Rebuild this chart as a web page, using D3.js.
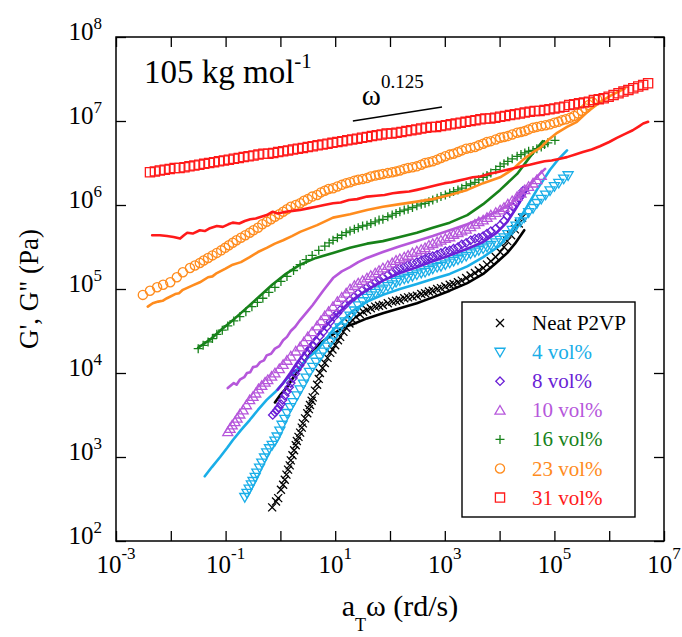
<!DOCTYPE html>
<html>
<head>
<meta charset="utf-8">
<script src="https://cdn.jsdelivr.net/npm/d3@7"></script>
<style>
  body { margin: 0; background: #fff; }
</style>
</head>
<body>
<svg id="chart" width="682" height="637"></svg>
<script>
// values, stored as [log10(aT*w / rd s^-1), log10(G / Pa)]
const samples = ['Neat P2VP', '4 vol%', '8 vol%', '10 vol%', '16 vol%', '23 vol%', '31 vol%'];
const colors = ['#000000', '#1aaee8', '#6a1fd6', '#b657db', '#17821a', '#ff8c1e', '#ff1a1a'];
const shapes = ['cross', 'triDown', 'diamond', 'triUp', 'plus', 'circle', 'square'];

const xTickExp = [-3, -2, -1, 0, 1, 2, 3, 4, 5, 6, 7];
const xLabelExp = [-3, -1, 1, 3, 5, 7];
const yTickExp = [2, 3, 4, 5, 6, 7, 8];

// G' (symbols)
const neatGp = [[-0.15,2.40],[-0.08,2.47],[-0.04,2.51],[0.01,2.61],[0.05,2.67],[0.08,2.73],[0.11,2.79],[0.14,2.85],[0.17,2.90],[0.19,2.96],[0.22,3.02],[0.25,3.08],[0.28,3.14],[0.30,3.19],[0.33,3.24],[0.36,3.29],[0.39,3.35],[0.41,3.40],[0.45,3.46],[0.49,3.52],[0.52,3.57],[0.54,3.62],[0.57,3.67],[0.59,3.71],[0.63,3.79],[0.67,3.86],[0.70,3.93],[0.72,4.00],[0.77,4.06],[0.81,4.12],[0.86,4.18],[0.91,4.24],[0.95,4.28],[1.00,4.33],[1.05,4.39],[1.09,4.43],[1.15,4.49],[1.20,4.54],[1.26,4.59],[1.32,4.63],[1.38,4.67],[1.45,4.70],[1.51,4.73],[1.58,4.75],[1.65,4.77],[1.73,4.79],[1.80,4.80],[1.87,4.81],[1.96,4.83],[2.04,4.85],[2.11,4.86],[2.18,4.87],[2.26,4.89],[2.33,4.90],[2.41,4.91],[2.49,4.92],[2.57,4.94],[2.64,4.95],[2.71,4.97],[2.78,4.98],[2.86,5.00],[2.93,5.01],[3.01,5.03],[3.09,5.05],[3.16,5.06],[3.24,5.08],[3.31,5.10],[3.39,5.13],[3.47,5.16],[3.55,5.19],[3.62,5.22],[3.70,5.25],[3.77,5.29],[3.84,5.33],[3.93,5.38],[4.01,5.44],[4.08,5.50],[4.14,5.57],[4.21,5.64],[4.28,5.71],[4.35,5.78],[4.41,5.85]];
const v4Gp = [[-0.65,2.52],[-0.61,2.57],[-0.57,2.62],[-0.53,2.67],[-0.50,2.71],[-0.46,2.76],[-0.43,2.81],[-0.38,2.87],[-0.34,2.93],[-0.29,2.99],[-0.25,3.05],[-0.20,3.10],[-0.15,3.14],[-0.10,3.19],[-0.06,3.24],[-0.01,3.31],[0.03,3.38],[0.08,3.45],[0.12,3.52],[0.18,3.59],[0.23,3.65],[0.30,3.73],[0.36,3.80],[0.42,3.87],[0.47,3.94],[0.53,4.01],[0.59,4.07],[0.65,4.13],[0.72,4.19],[0.78,4.25],[0.85,4.31],[0.92,4.37],[0.98,4.43],[1.04,4.49],[1.09,4.54],[1.18,4.61],[1.27,4.68],[1.35,4.74],[1.42,4.80],[1.50,4.85],[1.58,4.89],[1.65,4.92],[1.73,4.95],[1.80,4.98],[1.87,5.00],[1.96,5.03],[2.04,5.05],[2.11,5.08],[2.18,5.10],[2.26,5.12],[2.33,5.13],[2.41,5.15],[2.49,5.17],[2.57,5.19],[2.64,5.20],[2.71,5.22],[2.78,5.24],[2.86,5.26],[2.93,5.27],[3.01,5.29],[3.09,5.31],[3.16,5.33],[3.24,5.35],[3.31,5.37],[3.39,5.39],[3.47,5.42],[3.55,5.44],[3.62,5.46],[3.70,5.48],[3.77,5.50],[3.84,5.52],[3.93,5.55],[4.01,5.58],[4.08,5.61],[4.15,5.65],[4.23,5.70],[4.30,5.75],[4.38,5.80],[4.45,5.85],[4.53,5.91],[4.61,5.96],[4.68,6.02],[4.76,6.07],[4.84,6.12],[4.92,6.17],[5.00,6.22],[5.08,6.26],[5.17,6.31],[5.25,6.35]];
const v8Gp = [[-0.14,3.50],[-0.10,3.53],[-0.06,3.56],[-0.03,3.59],[0.01,3.63],[0.04,3.68],[0.08,3.73],[0.12,3.78],[0.16,3.83],[0.19,3.88],[0.23,3.94],[0.27,3.99],[0.30,4.04],[0.35,4.09],[0.39,4.13],[0.44,4.19],[0.49,4.24],[0.54,4.29],[0.59,4.33],[0.65,4.38],[0.72,4.44],[0.78,4.49],[0.85,4.55],[0.91,4.61],[0.98,4.67],[1.04,4.71],[1.09,4.75],[1.18,4.81],[1.27,4.87],[1.35,4.91],[1.42,4.95],[1.50,4.99],[1.58,5.02],[1.65,5.05],[1.73,5.08],[1.80,5.11],[1.87,5.14],[1.96,5.17],[2.04,5.20],[2.11,5.23],[2.18,5.25],[2.26,5.27],[2.33,5.29],[2.41,5.31],[2.49,5.32],[2.57,5.34],[2.64,5.36],[2.71,5.38],[2.78,5.39],[2.86,5.41],[2.93,5.43],[3.01,5.45],[3.09,5.46],[3.16,5.48],[3.24,5.50],[3.31,5.53],[3.39,5.55],[3.47,5.58],[3.55,5.60],[3.62,5.61],[3.70,5.63],[3.77,5.66],[3.84,5.69],[3.93,5.72],[4.01,5.76],[4.08,5.81],[4.14,5.87],[4.19,5.92],[4.24,5.98],[4.30,6.03],[4.35,6.08],[4.39,6.12],[4.43,6.17]];
const v10Gp = [[-0.96,3.30],[-0.92,3.34],[-0.88,3.38],[-0.83,3.42],[-0.79,3.46],[-0.74,3.51],[-0.68,3.56],[-0.62,3.62],[-0.56,3.68],[-0.50,3.72],[-0.45,3.76],[-0.40,3.81],[-0.34,3.85],[-0.28,3.89],[-0.23,3.92],[-0.16,3.96],[-0.10,4.00],[-0.02,4.05],[0.05,4.10],[0.12,4.15],[0.19,4.20],[0.28,4.26],[0.36,4.31],[0.43,4.37],[0.50,4.43],[0.58,4.49],[0.67,4.56],[0.74,4.62],[0.81,4.68],[0.88,4.73],[0.96,4.79],[1.04,4.85],[1.12,4.90],[1.20,4.95],[1.27,5.00],[1.35,5.04],[1.42,5.07],[1.50,5.10],[1.58,5.13],[1.65,5.16],[1.73,5.19],[1.80,5.22],[1.87,5.25],[1.96,5.28],[2.04,5.31],[2.11,5.34],[2.18,5.36],[2.26,5.38],[2.33,5.40],[2.41,5.43],[2.49,5.45],[2.57,5.47],[2.64,5.49],[2.71,5.52],[2.78,5.54],[2.86,5.56],[2.93,5.58],[3.01,5.60],[3.09,5.62],[3.16,5.65],[3.24,5.67],[3.31,5.69],[3.39,5.71],[3.47,5.74],[3.55,5.77],[3.62,5.80],[3.70,5.82],[3.77,5.85],[3.84,5.88],[3.93,5.91],[4.01,5.94],[4.08,5.97],[4.15,6.01],[4.23,6.05],[4.32,6.10],[4.39,6.14],[4.46,6.18],[4.53,6.22],[4.61,6.26],[4.68,6.30],[4.76,6.35]];
const v16Gp = [[-1.50,4.29],[-1.41,4.33],[-1.32,4.37],[-1.24,4.41],[-1.16,4.46],[-1.06,4.51],[-0.96,4.56],[-0.85,4.62],[-0.74,4.67],[-0.63,4.73],[-0.52,4.79],[-0.42,4.84],[-0.32,4.89],[-0.21,4.96],[-0.10,5.02],[0.01,5.09],[0.12,5.15],[0.24,5.22],[0.36,5.29],[0.47,5.35],[0.58,5.40],[0.70,5.46],[0.81,5.51],[0.89,5.55],[0.96,5.58],[1.04,5.61],[1.12,5.64],[1.20,5.67],[1.27,5.69],[1.35,5.71],[1.42,5.73],[1.50,5.75],[1.58,5.76],[1.65,5.78],[1.73,5.80],[1.80,5.82],[1.87,5.83],[1.96,5.86],[2.04,5.88],[2.11,5.90],[2.18,5.92],[2.26,5.94],[2.33,5.95],[2.41,5.97],[2.49,5.99],[2.57,6.01],[2.64,6.02],[2.71,6.04],[2.78,6.06],[2.86,6.08],[2.93,6.10],[3.01,6.12],[3.09,6.14],[3.16,6.16],[3.24,6.18],[3.31,6.20],[3.39,6.23],[3.47,6.25],[3.55,6.27],[3.62,6.30],[3.70,6.33],[3.77,6.35],[3.84,6.38],[3.93,6.42],[4.01,6.46],[4.08,6.49],[4.15,6.52],[4.23,6.55],[4.32,6.58],[4.39,6.60],[4.46,6.62],[4.53,6.64],[4.61,6.65],[4.68,6.67],[4.76,6.69],[4.82,6.72],[4.88,6.74],[5.01,6.77]];
const v23Gp = [[-2.51,4.93],[-2.38,4.98],[-2.25,5.02],[-2.14,5.05],[-2.01,5.08],[-1.89,5.14],[-1.78,5.20],[-1.65,5.25],[-1.56,5.28],[-1.47,5.31],[-1.40,5.34],[-1.32,5.37],[-1.24,5.40],[-1.16,5.43],[-1.08,5.46],[-1.01,5.49],[-0.94,5.52],[-0.87,5.55],[-0.80,5.58],[-0.72,5.61],[-0.64,5.64],[-0.56,5.67],[-0.49,5.70],[-0.41,5.73],[-0.33,5.77],[-0.25,5.80],[-0.17,5.83],[-0.10,5.86],[-0.02,5.89],[0.05,5.92],[0.12,5.95],[0.19,5.98],[0.28,6.00],[0.36,6.02],[0.43,6.05],[0.50,6.07],[0.58,6.10],[0.67,6.12],[0.74,6.15],[0.81,6.17],[0.88,6.19],[0.96,6.20],[1.04,6.22],[1.12,6.24],[1.20,6.26],[1.27,6.27],[1.35,6.29],[1.42,6.30],[1.50,6.31],[1.58,6.32],[1.65,6.34],[1.73,6.35],[1.80,6.36],[1.87,6.37],[1.96,6.38],[2.04,6.39],[2.11,6.40],[2.18,6.41],[2.26,6.43],[2.33,6.44],[2.41,6.45],[2.49,6.46],[2.57,6.48],[2.64,6.50],[2.71,6.51],[2.78,6.52],[2.86,6.54],[2.93,6.56],[3.01,6.58],[3.09,6.60],[3.16,6.61],[3.24,6.63],[3.31,6.65],[3.39,6.67],[3.47,6.68],[3.55,6.69],[3.62,6.71],[3.70,6.73],[3.77,6.75],[3.84,6.76],[3.93,6.78],[4.01,6.80],[4.08,6.81],[4.15,6.82],[4.23,6.84],[4.32,6.86],[4.39,6.87],[4.46,6.88],[4.53,6.90],[4.61,6.92],[4.68,6.93],[4.76,6.94],[4.84,6.95],[4.92,6.96],[5.00,6.98],[5.07,6.99],[5.14,7.01],[5.21,7.02],[5.29,7.04],[5.36,7.06],[5.43,7.09],[5.50,7.12],[5.57,7.15],[5.63,7.19],[5.70,7.22],[5.78,7.26]];
const v31Gp = [[-2.38,6.39],[-2.29,6.40],[-2.20,6.41],[-2.11,6.42],[-2.02,6.43],[-1.93,6.44],[-1.84,6.44],[-1.75,6.45],[-1.66,6.46],[-1.57,6.47],[-1.48,6.48],[-1.39,6.49],[-1.30,6.50],[-1.21,6.51],[-1.12,6.52],[-1.03,6.53],[-0.94,6.54],[-0.85,6.55],[-0.76,6.56],[-0.67,6.57],[-0.58,6.58],[-0.49,6.59],[-0.40,6.60],[-0.31,6.61],[-0.22,6.61],[-0.13,6.62],[-0.04,6.63],[0.05,6.64],[0.14,6.65],[0.23,6.66],[0.32,6.67],[0.41,6.68],[0.50,6.69],[0.59,6.70],[0.68,6.71],[0.77,6.72],[0.86,6.73],[0.95,6.74],[1.04,6.75],[1.13,6.76],[1.22,6.77],[1.31,6.78],[1.40,6.79],[1.49,6.80],[1.58,6.81],[1.67,6.82],[1.76,6.83],[1.85,6.84],[1.94,6.85],[2.03,6.85],[2.12,6.86],[2.21,6.87],[2.30,6.88],[2.39,6.89],[2.48,6.90],[2.57,6.91],[2.66,6.92],[2.75,6.93],[2.84,6.93],[2.93,6.94],[3.02,6.95],[3.11,6.96],[3.20,6.97],[3.29,6.98],[3.38,6.99],[3.47,7.00],[3.56,7.01],[3.65,7.02],[3.74,7.03],[3.83,7.03],[3.92,7.04],[4.01,7.05],[4.10,7.06],[4.19,7.07],[4.28,7.08],[4.37,7.09],[4.46,7.10],[4.55,7.11],[4.64,7.12],[4.73,7.12],[4.82,7.13],[4.91,7.14],[5.00,7.15],[5.09,7.16],[5.18,7.17],[5.27,7.19],[5.36,7.20],[5.45,7.21],[5.54,7.22],[5.63,7.23],[5.72,7.25],[5.81,7.26],[5.90,7.27],[5.99,7.29],[6.08,7.31],[6.17,7.33],[6.26,7.35],[6.35,7.37],[6.44,7.39],[6.53,7.41],[6.62,7.43],[6.71,7.45]];

// G'' (lines)
const neatGpp = [[-0.10,3.65],[0.01,3.75],[0.12,3.83],[0.23,3.94],[0.36,4.06],[0.49,4.18],[0.59,4.27],[0.76,4.37],[0.96,4.46],[1.14,4.54],[1.32,4.58],[1.58,4.65],[1.87,4.71],[2.18,4.77],[2.49,4.83],[2.78,4.90],[3.09,4.98],[3.41,5.07],[3.70,5.18],[3.92,5.30],[4.14,5.43],[4.28,5.54],[4.45,5.70]];
const v4Gpp = [[-1.38,2.77],[-1.25,2.88],[-1.10,3.00],[-0.97,3.11],[-0.87,3.20],[-0.72,3.32],[-0.56,3.44],[-0.41,3.56],[-0.25,3.68],[-0.10,3.77],[0.05,3.88],[0.19,3.98],[0.36,4.07],[0.50,4.18],[0.67,4.27],[0.81,4.39],[0.96,4.51],[1.14,4.63],[1.32,4.74],[1.58,4.85],[1.87,4.93],[2.18,5.00],[2.49,5.06],[2.78,5.12],[3.09,5.18],[3.41,5.27],[3.70,5.38],[4.01,5.52],[4.32,5.79],[4.50,5.98],[4.68,6.18],[4.92,6.42],[5.08,6.55],[5.23,6.65]];
const v8Gpp = [[-0.05,3.80],[0.05,3.88],[0.18,4.00],[0.30,4.12],[0.45,4.25],[0.59,4.38],[0.76,4.51],[0.96,4.65],[1.27,4.85],[1.58,4.99],[1.87,5.10],[2.18,5.19],[2.49,5.26],[2.78,5.33],[3.09,5.40],[3.41,5.48],[3.70,5.56],[3.95,5.67],[4.14,5.80],[4.28,5.94],[4.41,6.08],[4.52,6.20]];
const v10Gpp = [[-0.96,3.82],[-0.85,3.88],[-0.80,3.86],[-0.74,3.92],[-0.66,3.95],[-0.61,4.00],[-0.55,4.01],[-0.50,4.07],[-0.43,4.08],[-0.37,4.13],[-0.30,4.15],[-0.25,4.21],[-0.17,4.23],[-0.10,4.29],[-0.02,4.32],[0.05,4.39],[0.12,4.43],[0.19,4.50],[0.27,4.55],[0.36,4.63],[0.49,4.73],[0.59,4.81],[0.78,4.98],[0.96,5.13],[1.12,5.21],[1.27,5.26],[1.42,5.32],[1.58,5.37],[1.87,5.44],[2.18,5.51],[2.49,5.57],[2.78,5.63],[3.09,5.70],[3.41,5.77],[3.70,5.85],[4.01,5.94],[4.19,6.01],[4.37,6.11],[4.55,6.24],[4.70,6.35],[4.83,6.43]];
const v16Gpp = [[-1.50,4.30],[-1.28,4.40],[-1.07,4.52],[-0.83,4.65],[-0.59,4.79],[-0.37,4.92],[-0.15,5.05],[0.10,5.18],[0.36,5.29],[0.65,5.37],[0.96,5.43],[1.27,5.49],[1.58,5.54],[1.87,5.57],[2.18,5.62],[2.49,5.67],[2.78,5.73],[3.09,5.79],[3.41,5.88],[3.70,6.01],[4.01,6.18],[4.32,6.37],[4.55,6.57],[4.79,6.76]];
const v23Gpp = [[-2.42,4.79],[-2.33,4.83],[-2.23,4.85],[-2.15,4.86],[-2.07,4.89],[-1.92,4.94],[-1.85,4.95],[-1.78,4.99],[-1.61,5.04],[-1.47,5.08],[-1.32,5.14],[-1.24,5.15],[-1.16,5.19],[-1.01,5.24],[-0.87,5.29],[-0.72,5.32],[-0.56,5.38],[-0.41,5.44],[-0.25,5.49],[-0.10,5.54],[0.05,5.58],[0.21,5.63],[0.36,5.68],[0.67,5.76],[0.96,5.85],[1.27,5.89],[1.58,5.94],[1.87,5.98],[2.18,6.01],[2.49,6.04],[2.78,6.07],[3.09,6.12],[3.41,6.18],[3.70,6.26],[4.01,6.33],[4.23,6.42],[4.43,6.54],[4.59,6.62],[4.74,6.68],[4.88,6.77],[5.05,6.86],[5.23,6.93],[5.41,6.99],[5.59,7.10],[5.78,7.20],[5.92,7.26],[6.05,7.31],[6.20,7.36],[6.29,7.39]];
const v31Gpp = [[-2.34,5.64],[-2.20,5.64],[-2.07,5.63],[-1.95,5.62],[-1.83,5.60],[-1.76,5.64],[-1.70,5.67],[-1.60,5.66],[-1.47,5.70],[-1.38,5.69],[-1.30,5.72],[-1.16,5.75],[-1.05,5.74],[-0.95,5.77],[-0.87,5.79],[-0.75,5.78],[-0.65,5.81],[-0.55,5.83],[-0.45,5.84],[-0.35,5.86],[-0.25,5.88],[-0.14,5.92],[-0.05,5.90],[0.10,5.92],[0.22,5.93],[0.36,5.94],[0.50,5.96],[0.65,5.98],[0.80,6.00],[0.96,6.02],[1.10,6.03],[1.25,6.06],[1.40,6.07],[1.58,6.10],[1.75,6.11],[1.90,6.12],[2.05,6.14],[2.18,6.15],[2.35,6.16],[2.49,6.18],[2.62,6.20],[2.75,6.22],[2.88,6.24],[3.00,6.26],[3.12,6.27],[3.25,6.29],[3.38,6.31],[3.51,6.33],[3.65,6.34],[3.80,6.37],[3.95,6.39],[4.14,6.42],[4.28,6.44],[4.40,6.46],[4.55,6.48],[4.68,6.50],[4.82,6.52],[4.95,6.53],[5.10,6.55],[5.23,6.57],[5.38,6.60],[5.52,6.63],[5.68,6.66],[5.83,6.70],[6.00,6.75],[6.14,6.80],[6.30,6.85],[6.43,6.89],[6.55,6.94],[6.62,6.97],[6.71,6.99]];

// omega^0.125 guide line, [aT*w, G]
const slopeLine = [[21, 1.0e7], [890, 1.47e7]];

const gpSets = [neatGp, v4Gp, v8Gp, v10Gp, v16Gp, v23Gp, v31Gp];
const gppSets = [neatGpp, v4Gpp, v8Gpp, v10Gpp, v16Gpp, v23Gpp, v31Gpp];

const toValues = arr => arr.map(([lw, lg]) => [Math.pow(10, lw), Math.pow(10, lg)]);
const series = samples.map((name, i) => ({
  name, color: colors[i], shape: shapes[i],
  gp: toValues(gpSets[i]), gpp: toValues(gppSets[i])
}));

const svg = d3.select('#chart');
const x = d3.scaleLog().domain([1e-3, 1e7]).range([116, 664]);
const y = d3.scaleLog().domain([1e2, 1e8]).range([541, 37]);
const [x0, x1] = x.range();
const [y0, y1] = y.range();

const symbolPath = (shape, r) => {
  switch (shape) {
    case 'cross': return `M${-r},${-r}L${r},${r}M${-r},${r}L${r},${-r}`;
    case 'plus': return `M${-r},0H${r}M0,${-r}V${r}`;
    case 'square': return `M${-r},${-r}H${r}V${r}H${-r}Z`;
    case 'diamond': return `M0,${-r}L${r},0L0,${r}L${-r},0Z`;
    case 'triUp': return `M0,${-r}L${r * 1.05},${r * 0.8}L${-r * 1.05},${r * 0.8}Z`;
    case 'triDown': return `M0,${r}L${r * 1.05},${-r * 0.8}L${-r * 1.05},${-r * 0.8}Z`;
    case 'circle': return d3.arc()({innerRadius: 0, outerRadius: r, startAngle: 0, endAngle: 2 * Math.PI});
  }
};
const symbolSize = {cross: 4, plus: 4.5, square: 4.6, diamond: 4.2, triUp: 4.8, triDown: 4.8, circle: 4.6};

const addText = (sel, xPos, yPos, size) => sel.append('text')
  .attr('x', xPos).attr('y', yPos).attr('font-size', size)
  .style('font-family', '"Liberation Serif"');

// ticks on all four sides, pointing inward
const xTicks = xTickExp.map(e => Math.pow(10, e));
const yTicks = yTickExp.map(e => Math.pow(10, e));
const addAxis = (axis, tx, ty) => {
  const g = svg.append('g').attr('transform', `translate(${tx},${ty})`)
    .call(axis.tickSizeInner(-10).tickSizeOuter(0).tickFormat(() => ''));
  g.select('.domain').remove();
  g.selectAll('.tick text').remove();
  g.selectAll('.tick line').attr('stroke', '#000').attr('stroke-width', 1.3);
};
addAxis(d3.axisBottom(x).tickValues(xTicks), 0, y0);
addAxis(d3.axisTop(x).tickValues(xTicks), 0, y1);
addAxis(d3.axisLeft(y).tickValues(yTicks), x0, 0);
addAxis(d3.axisRight(y).tickValues(yTicks), x1, 0);

svg.append('rect')
  .attr('x', x0).attr('y', y1).attr('width', x1 - x0).attr('height', y0 - y1)
  .attr('fill', 'none').attr('stroke', '#000').attr('stroke-width', 1.5);

// tick labels
xLabelExp.forEach(e => {
  const t = addText(svg, x(Math.pow(10, e)), 573, 25).attr('text-anchor', 'middle');
  t.append('tspan').text('10');
  t.append('tspan').attr('dy', -14).attr('font-size', 17).text(String(e));
});
yTickExp.forEach(e => {
  const t = addText(svg, x0 - 14, y(Math.pow(10, e)) + 3, 25).attr('text-anchor', 'end');
  t.append('tspan').text('10');
  t.append('tspan').attr('dy', -11).attr('font-size', 17).text(String(e));
});

// axis titles
addText(svg, 0, 0, 27)
  .attr('transform', `translate(38,${(y0 + y1) / 2}) rotate(-90)`)
  .attr('text-anchor', 'middle')
  .text('G\', G" (Pa)');
const xt = addText(svg, (x0 + x1) / 2 + 10, 616, 30).attr('text-anchor', 'middle');
xt.append('tspan').text('a');
xt.append('tspan').attr('dy', 15).attr('font-size', 18).text('T');
xt.append('tspan').attr('dy', -15).text('\u03c9 (rd/s)');

// data
const line = d3.line().x(d => x(d[0])).y(d => y(d[1]));
series.forEach(s => {
  const g = svg.append('g');
  g.selectAll('path.sym').data(s.gp).enter().append('path')
    .attr('class', 'sym')
    .attr('transform', d => `translate(${x(d[0])},${y(d[1])})`)
    .attr('d', symbolPath(s.shape, symbolSize[s.shape]))
    .attr('fill', 'none').attr('stroke', s.color).attr('stroke-width', 1.3);
  g.append('path').datum(s.gpp)
    .attr('d', line)
    .attr('fill', 'none').attr('stroke', s.color).attr('stroke-width', 2.6)
    .attr('stroke-linejoin', 'round').attr('stroke-linecap', 'round');
});

// annotations
const title = addText(svg, x0 + 28, 83, 33);
title.append('tspan').text('105 kg mol');
title.append('tspan').attr('dy', -15).attr('font-size', 21).text('-1');

svg.append('path').datum(slopeLine).attr('d', line)
  .attr('stroke', '#000').attr('stroke-width', 1.4).attr('fill', 'none');
const sx = x(slopeLine[0][0]), sy = y(slopeLine[0][1]);
const om = addText(svg, sx + 9, sy - 16, 29);
om.append('tspan').text('\u03c9');
om.append('tspan').attr('dy', -17).attr('font-size', 19).text('0.125');

// legend
const lg = svg.append('g');
lg.append('rect').attr('x', 462).attr('y', 302).attr('width', 173).attr('height', 215)
  .attr('fill', '#fff').attr('stroke', '#000').attr('stroke-width', 1.4);
series.forEach((s, i) => {
  const cy = 323 + i * 29.1;
  lg.append('path').attr('transform', `translate(500,${cy})`)
    .attr('d', symbolPath(s.shape, symbolSize[s.shape]))
    .attr('fill', 'none').attr('stroke', s.color).attr('stroke-width', 1.3);
  addText(lg, 532, cy + 7, 21).attr('fill', s.color).text(s.name);
});
</script>
</body>
</html>
